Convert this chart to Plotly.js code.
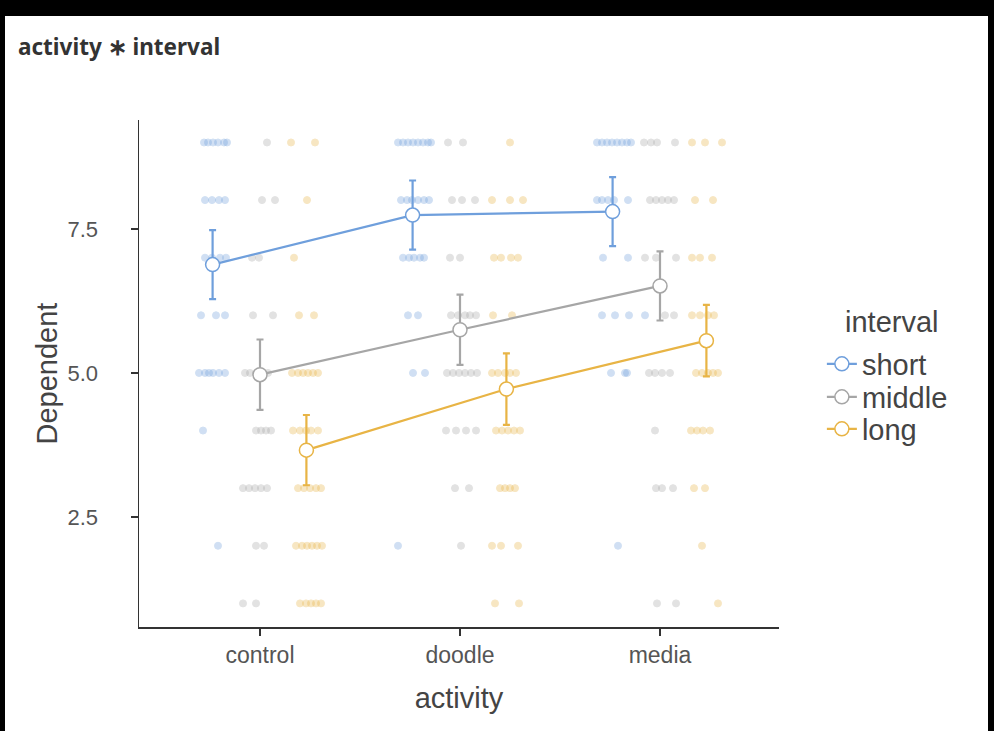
<!DOCTYPE html>
<html><head><meta charset="utf-8">
<script src="https://cdn.plot.ly/plotly-3.0.1.min.js"></script>
<style>
html,body{margin:0;padding:0;background:#000;width:994px;height:731px;overflow:hidden;}
#chart{position:absolute;left:5px;top:16px;width:983px;height:715px;background:#fff;}
</style></head><body><div id="chart"></div>
<script>
// ---- data ----
const activities = ['control', 'doodle', 'media'];
const intervals = ['short', 'middle', 'long'];
const yTickVals = [2.5, 5, 7.5];
const yTickText = ['2.5', '5.0', '7.5'];

// estimated marginal means and CI half-widths (per activity)
const meanShort = [6.88, 7.74, 7.80];
const meanMiddle = [4.97, 5.75, 6.51];
const meanLong = [3.66, 4.72, 5.56];
const ciShort = [0.60, 0.60, 0.60];
const ciMiddle = [0.61, 0.61, 0.60];
const ciLong = [0.61, 0.62, 0.62];

// raw (jittered) observations: x in activity units, y = Dependent
const shortX = [
  -0.28,-0.26,-0.235,-0.21,-0.18,-0.165, -0.275,-0.24,-0.205,-0.175, -0.275,-0.24,-0.2,-0.17,
  -0.295,-0.22,-0.175, -0.305,-0.275,-0.255,-0.235,-0.205,-0.175, -0.285, -0.21,
  0.69,0.715,0.74,0.765,0.79,0.815,0.84,0.855, 0.705,0.735,0.76,0.79,0.82,0.845,
  0.715,0.745,0.77,0.8,0.82, 0.74,0.79, 0.765,0.825, 0.69,
  1.685,1.71,1.735,1.76,1.785,1.81,1.835,1.855, 1.685,1.71,1.74,1.77,1.84,
  1.715,1.84, 1.71,1.775,1.845,1.925, 1.755,1.825,1.835, 1.79
];
const shortY = [
  9,9,9,9,9,9, 8,8,8,8, 7,7,7,7,
  6,6,6, 5,5,5,5,5,5, 4, 2,
  9,9,9,9,9,9,9,9, 8,8,8,8,8,8,
  7,7,7,7,7, 6,6, 5,5, 2,
  9,9,9,9,9,9,9,9, 8,8,8,8,8,
  7,7, 6,6,6,6, 5,5,5, 2
];
const middleX = [
  0.035, 0.01,0.075, -0.04,-0.005, -0.035,0.065, -0.075,-0.05,-0.02,0.01,0.04,
  -0.02,0.005,0.03,0.055, -0.085,-0.055,-0.025,0.005,0.035, -0.02,0.02, -0.085,-0.02,
  0.94,1.015, 0.96,1.01,1.075, 0.95,1.0, 0.955,0.99,1.025,1.05,1.08,
  0.935,0.965,0.995,1.025,1.055,1.085, 0.93,0.98,1.03,1.08, 0.975,1.045, 1.005,
  1.92,1.955,1.985,2.075, 1.95,1.98,2.01,2.04,2.07, 1.925,1.98,2.08, 2.025,2.07,
  1.945,1.975,2.01,2.05, 1.975, 1.98,2.01,2.065, 1.985,2.08
];
const middleY = [
  9, 8,8, 7,7, 6,6, 5,5,5,5,5,
  4,4,4,4, 3,3,3,3,3, 2,2, 1,1,
  9,9, 8,8,8, 7,7, 6,6,6,6,6,
  5,5,5,5,5,5, 4,4,4,4, 3,3, 2,
  9,9,9,9, 8,8,8,8,8, 7,7,7, 6,6,
  5,5,5,5, 4, 3,3,3, 1,1
];
const longX = [
  0.155,0.275, 0.235, 0.17, 0.195,0.27, 0.16,0.19,0.215,0.24,0.265,0.29,
  0.165,0.2,0.23,0.255,0.29, 0.19,0.22,0.25,0.28,0.305, 0.18,0.21,0.235,0.26,0.285,0.31,
  0.2,0.23,0.255,0.28,0.305,
  1.25, 1.16,1.25,1.315, 1.17,1.205,1.255,1.29, 1.165,1.26, 1.16,1.19,1.225,1.25,1.28,
  1.18,1.21,1.24,1.27,1.3, 1.2,1.225,1.25,1.275, 1.16,1.205,1.29, 1.175,1.295,
  2.16,2.225,2.31, 2.175,2.265, 2.16,2.2,2.26, 2.16,2.2,2.24,2.27, 2.18,2.21,2.24,2.265,2.29,
  2.155,2.185,2.215,2.25, 2.17,2.225, 2.21, 2.29
];
const longY = [
  9,9, 8, 7, 6,6, 5,5,5,5,5,5,
  4,4,4,4,4, 3,3,3,3,3, 2,2,2,2,2,2,
  1,1,1,1,1,
  9, 8,8,8, 7,7,7,7, 6,6, 5,5,5,5,5,
  4,4,4,4,4, 3,3,3,3, 2,2,2, 1,1,
  9,9,9, 8,8, 7,7,7, 6,6,6,6, 5,5,5,5,5,
  4,4,4,4, 3,3, 2, 1
];

// ---- styling ----
const colors = {short: '#6f9fdc', middle: '#a6a6a6', long: '#e8b445'};
const dodge = {short: -0.237, middle: 0, long: 0.232};
const legendY = {short: 0.5187, middle: 0.4536, long: 0.3905};
const legendId = {short: 'legend', middle: 'legend2', long: 'legend3'};
const fontFam = '"Liberation Sans", Arial, sans-serif';

const rawData = {
  short: [shortX, shortY], middle: [middleX, middleY], long: [longX, longY]
};
const means = {short: meanShort, middle: meanMiddle, long: meanLong};
const cis = {short: ciShort, middle: ciMiddle, long: ciLong};

const traces = [];
intervals.forEach(k => {
  traces.push({
    type: 'scatter', mode: 'markers', x: rawData[k][0], y: rawData[k][1],
    showlegend: false, hoverinfo: 'skip',
    marker: {size: 7, color: colors[k], opacity: 0.32, line: {width: 1, color: colors[k]}}
  });
});
intervals.forEach(k => {
  traces.push({
    type: 'scatter', mode: 'lines+markers', name: k, legend: legendId[k],
    x: activities.map((a, i) => i + dodge[k]), y: means[k],
    line: {color: colors[k], width: 2.2},
    marker: {size: 14, color: '#ffffff', symbol: 'circle', line: {color: colors[k], width: 1.5}},
    error_y: {type: 'data', array: cis[k], visible: true, color: colors[k], thickness: 2.2, width: 3.5}
  });
});

function legendBox(k) {
  return {
    x: 1.067, xanchor: 'left', y: legendY[k], yanchor: 'middle',
    font: {size: 29, color: '#444', family: fontFam},
    itemwidth: 30, bgcolor: 'rgba(0,0,0,0)', borderwidth: 0
  };
}

const layout = {
  width: 983, height: 715,
  margin: {l: 134, r: 209, t: 104, b: 104},
  paper_bgcolor: '#ffffff', plot_bgcolor: '#ffffff',
  font: {family: fontFam, color: '#444'},
  title: {
    text: '<b>activity ∗ interval</b>', x: 13 / 983, xanchor: 'left', xref: 'container',
    y: 1 - 31 / 715, yanchor: 'middle', yref: 'container',
    font: {family: '"Noto Sans", "Open Sans", sans-serif', size: 22.5, color: '#333'}
  },
  xaxis: {
    range: [-0.605, 2.595], tickvals: [0, 1, 2], ticktext: activities,
    showline: true, linecolor: '#333', linewidth: 1.5, mirror: false,
    ticks: 'outside', ticklen: 7, tickwidth: 1.5, tickcolor: '#333',
    showgrid: false, zeroline: false,
    tickfont: {size: 23, color: '#555', family: fontFam},
    title: {text: 'activity', font: {size: 29, color: '#444', family: fontFam}, standoff: 20},
    automargin: false
  },
  yaxis: {
    range: [0.59, 9.39], tickvals: yTickVals, ticktext: yTickText,
    showline: true, linecolor: '#333', linewidth: 1.5,
    ticks: 'outside', ticklen: 7, tickwidth: 1.5, tickcolor: '#333',
    showgrid: false, zeroline: false,
    tickfont: {size: 22, color: '#555', family: fontFam},
    ticklabelstandoff: 28,
    automargin: false
  },
  legend: legendBox('short'),
  legend2: legendBox('middle'),
  legend3: legendBox('long'),
  annotations: [{
    text: 'interval', xref: 'paper', yref: 'paper', x: 1.1, y: 0.6016,
    xanchor: 'left', yanchor: 'middle', showarrow: false,
    font: {size: 29, color: '#444', family: fontFam}
  }, {
    text: 'Dependent', xref: 'paper', yref: 'paper', x: -0.1453, y: 0.5,
    xanchor: 'center', yanchor: 'middle', textangle: -90, showarrow: false,
    font: {size: 29, color: '#444', family: fontFam}
  }]
};

Plotly.newPlot('chart', traces, layout, {displayModeBar: false, staticPlot: true});
</script></body></html>
